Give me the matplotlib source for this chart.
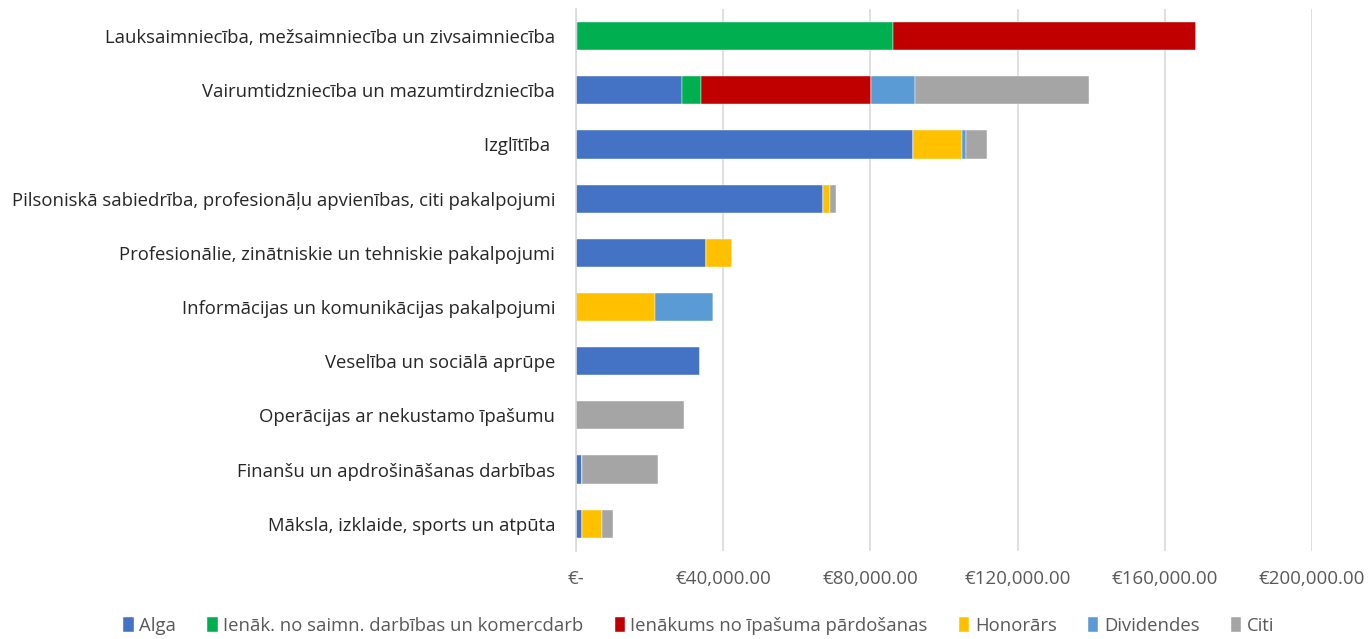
import matplotlib.pyplot as plt
from matplotlib.ticker import FuncFormatter

# categories, top to bottom
categories = [
    "Lauksaimniecība, mežsaimniecība un zivsaimniecība",
    "Vairumtidzniecība un mazumtirdzniecība",
    "Izglītība ",
    "Pilsoniskā sabiedrība, profesionāļu apvienības, citi pakalpojumi",
    "Profesionālie, zinātniskie un tehniskie pakalpojumi",
    "Informācijas un komunikācijas pakalpojumi",
    "Veselība un sociālā aprūpe",
    "Operācijas ar nekustamo īpašumu",
    "Finanšu un apdrošināšanas darbības",
    "Māksla, izklaide, sports un atpūta",
]

alga = [400, 28900, 91500, 67000, 35300, 0, 33600, 0, 1600, 1700]
saimn = [85800, 5100, 0, 0, 0, 0, 0, 0, 0, 0]
ipasums = [82300, 46100, 0, 0, 0, 0, 0, 0, 0, 0]
honorars = [0, 200, 13500, 1900, 7100, 21500, 0, 0, 0, 5300]
dividendes = [0, 11800, 1100, 0, 0, 15800, 0, 0, 0, 0]
citi = [0, 47200, 5700, 1800, 0, 0, 0, 29300, 20600, 3100]

series = [
    ("Alga", alga, "#4472C4"),
    ("Ienāk. no saimn. darbības un komercdarb", saimn, "#00B050"),
    ("Ienākums no īpašuma pārdošanas", ipasums, "#C00000"),
    ("Honorārs", honorars, "#FFC000"),
    ("Dividendes", dividendes, "#5B9BD5"),
    ("Citi", citi, "#A5A5A5"),
]

plt.rcParams['font.family'] = ['Open Sans', 'DejaVu Sans']

fig = plt.figure(figsize=(13.7, 6.39), dpi=100)
ax = fig.add_axes([0.4204, 0.138, 0.9577 - 0.4204, 0.986 - 0.138])

y = list(range(len(categories)))
left = [0] * len(categories)
for name, vals, color in series:
    ax.barh(y, vals, left=left, height=0.52, color=color, label=name,
            edgecolor="white", linewidth=0.3)
    left = [l + v for l, v in zip(left, vals)]

ax.set_ylim(len(categories) - 0.5, -0.5)
ax.set_yticks(y)
ax.set_yticklabels(categories, fontsize=13.3, color="#262626")
ax.set_xlim(0, 200000)
ax.set_xticks(range(0, 200001, 40000))


def euro(v, pos):
    if v == 0:
        return "€-"
    return "€{:,.2f}".format(v)


ax.xaxis.set_major_formatter(FuncFormatter(euro))
ax.tick_params(axis="x", length=0, pad=14, labelsize=13.5, labelcolor="#595959")
ax.tick_params(axis="y", length=0, pad=15)
ax.grid(axis="x", color="#D9D9D9", linewidth=1.2)
ax.set_axisbelow(True)
for s in ["top", "right", "bottom"]:
    ax.spines[s].set_visible(False)
ax.spines["left"].set_color("#D9D9D9")
ax.spines["left"].set_linewidth(1.2)

fig.legend(loc="lower center", ncol=6, bbox_to_anchor=(0.51, -0.02), frameon=False,
           fontsize=13.3, labelcolor="#595959", handlelength=0.55, handleheight=0.9,
           handletextpad=0.3, columnspacing=1.7)

fig.savefig("out.png", dpi=100)
